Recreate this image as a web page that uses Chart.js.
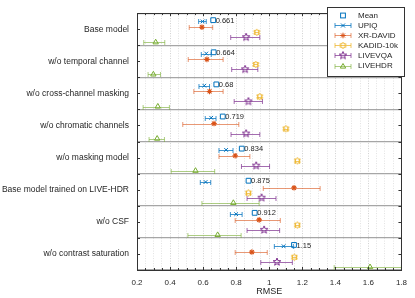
<!doctype html>
<html>
<head>
    <title>RMSE ablation</title>
    <script src="https://cdn.jsdelivr.net/npm/chart.js@4.4.0/dist/chart.umd.min.js"></script>
    <style>
        body { margin: 0; background: #fff; }
        #canvas { display: block; }
    </style>
</head>
<body>
    <canvas id="canvas" width="415" height="298"></canvas>
    <script>
        // categories (top to bottom)
        var groups = ['Base model', 'w/o temporal channel', 'w/o cross-channel masking', 'w/o chromatic channels',
            'w/o masking model', 'Base model trained on LIVE-HDR', 'w/o CSF', 'w/o contrast saturation'];
        var seriesNames = ['UPIQ', 'XR-DAVID', 'KADID-10k', 'LIVEVQA', 'LIVEHDR'];
        var xTickLabels = [0.2, 0.4, 0.6, 0.8, 1, 1.2, 1.4, 1.6, 1.8];

        // mean RMSE per model variant
        var meanVal = [0.661, 0.664, 0.68, 0.719, 0.834, 0.875, 0.912, 1.15];

        var upiqVal = [0.597, 0.619, 0.607, 0.649, 0.739, 0.615, 0.800, 1.087];
        var upiqLo  = [0.573, 0.589, 0.575, 0.613, 0.696, 0.583, 0.765, 1.031];
        var upiqHi  = [0.619, 0.649, 0.639, 0.678, 0.781, 0.646, 0.836, 1.146];

        var xrVal = [0.593, 0.623, 0.639, 0.666, 0.794, 1.150, 0.939, 0.895];
        var xrLo  = [0.516, 0.510, 0.544, 0.477, 0.696, 0.964, 0.794, 0.794];
        var xrHi  = [0.658, 0.721, 0.721, 0.816, 0.883, 1.308, 1.067, 0.988];

        var kadidVal = [0.925, 0.919, 0.943, 1.101, 1.170, 0.874, 1.170, 1.152];
        var kadidLo  = [0.913, 0.907, 0.931, 1.089, 1.158, 0.862, 1.158, 1.140];
        var kadidHi  = [0.937, 0.931, 0.955, 1.113, 1.182, 0.886, 1.182, 1.164];

        var vqaVal = [0.860, 0.854, 0.874, 0.860, 0.921, 0.954, 0.969, 1.047];
        var vqaLo  = [0.767, 0.773, 0.788, 0.769, 0.832, 0.866, 0.866, 0.949];
        var vqaHi  = [0.943, 0.931, 0.959, 0.943, 1.002, 1.041, 1.063, 1.140];

        var hdrVal = [0.313, 0.299, 0.326, 0.322, 0.554, 0.783, 0.688, 1.610];
        var hdrLo  = [0.241, 0.267, 0.237, 0.273, 0.407, 0.593, 0.508, 1.393];
        var hdrHi  = [0.368, 0.342, 0.396, 0.366, 0.670, 0.939, 0.830, 1.800];

        var colors = ['#0072BD', '#D95319', '#EDB120', '#7E2F8E', '#77AC30'];
        var barColors = ['rgba(0,114,189,0.75)', 'rgba(217,83,25,0.6)', 'rgba(237,177,32,0.7)', 'rgba(126,47,142,0.7)', 'rgba(119,172,48,0.6)'];
        var rowOffset = [-0.24, -0.06, 0.1, 0.25, 0.41];
        var meanOffset = -0.28;

        function starImg(color, n, R, r, size) {
            var c = document.createElement('canvas');
            c.width = size; c.height = size;
            var g = c.getContext('2d');
            g.strokeStyle = color;
            g.lineWidth = 1;
            g.beginPath();
            for (var k = 0; k < 2 * n; k++) {
                var a = -Math.PI / 2 + k * Math.PI / n;
                var rad = k % 2 ? r : R;
                var px = size / 2 + rad * Math.cos(a), py = size / 2 + rad * Math.sin(a);
                if (k == 0) g.moveTo(px, py); else g.lineTo(px, py);
            }
            g.closePath();
            g.stroke();
            return c;
        }
        var hexagram = starImg(colors[2], 6, 3.3, 2.0, 9);
        var pentagram = starImg(colors[3], 5, 4.0, 1.7, 10);

        var vals = [upiqVal, xrVal, kadidVal, vqaVal, hdrVal];
        var los = [upiqLo, xrLo, kadidLo, vqaLo, hdrLo];
        var his = [upiqHi, xrHi, kadidHi, vqaHi, hdrHi];
        var styles = [
            { pointStyle: 'crossRot', radius: 2.6, borderWidth: 1 },
            { pointStyle: 'star', radius: 2.8, borderWidth: 1.1 },
            { pointStyle: hexagram, radius: 4, borderWidth: 1 },
            { pointStyle: pentagram, radius: 4, borderWidth: 1 },
            { pointStyle: 'triangle', radius: 3.1, borderWidth: 1 }
        ];

        var datasets = [{
            label: 'Mean',
            data: meanVal.map(function (v, j) { return { x: v, y: j + 1 + meanOffset }; }),
            pointStyle: 'rect',
            pointRadius: 3.4,
            borderColor: colors[0],
            backgroundColor: 'rgba(0,0,0,0)',
            borderWidth: 1
        }];
        for (var i = 0; i < 5; i++) {
            datasets.push({
                label: seriesNames[i],
                data: vals[i].map(function (v, j) { return { x: v, y: j + 1 + rowOffset[i] }; }),
                pointStyle: styles[i].pointStyle,
                pointRadius: styles[i].radius,
                borderColor: colors[i],
                backgroundColor: 'rgba(0,0,0,0)',
                borderWidth: styles[i].borderWidth
            });
        }

        var errorBars = {
            id: 'errorBars',
            beforeDatasetsDraw: function (chart) {
                var c = chart.ctx, xs = chart.scales.x, ys = chart.scales.y;
                c.save();
                c.lineWidth = 1;
                for (var i = 0; i < 5; i++) {
                    c.strokeStyle = barColors[i];
                    for (var j = 0; j < groups.length; j++) {
                        var y = Math.round(ys.getPixelForValue(j + 1 + rowOffset[i])) + 0.5;
                        var x0 = xs.getPixelForValue(los[i][j]), x1 = xs.getPixelForValue(his[i][j]);
                        c.beginPath();
                        c.moveTo(x0, y); c.lineTo(x1, y);
                        c.moveTo(x0, y - 2.5); c.lineTo(x0, y + 2.5);
                        c.moveTo(x1, y - 2.5); c.lineTo(x1, y + 2.5);
                        c.stroke();
                    }
                }
                c.restore();
            }
        };

        var meanLabels = {
            id: 'meanLabels',
            afterDatasetsDraw: function (chart) {
                var c = chart.ctx, xs = chart.scales.x, ys = chart.scales.y;
                c.save();
                c.font = '7.5px "Liberation Sans", Arial, sans-serif';
                c.fillStyle = '#262626';
                c.textBaseline = 'middle';
                c.textAlign = 'left';
                for (var j = 0; j < meanVal.length; j++) {
                    c.fillText(String(meanVal[j]), xs.getPixelForValue(meanVal[j]) + 2.5, ys.getPixelForValue(j + 1 + meanOffset) + 0.5);
                }
                c.restore();
            }
        };

        var frame = {
            id: 'frame',
            afterDatasetsDraw: function (chart) {
                var c = chart.ctx, a = chart.chartArea, xs = chart.scales.x, ys = chart.scales.y;
                c.save();
                c.strokeStyle = '#333';
                c.lineWidth = 1;
                c.beginPath();
                for (var v = 0.2; v < 1.8001; v += 0.05) {
                    var x = Math.round(xs.getPixelForValue(v)) + 0.5;
                    var major = Math.abs(v / 0.2 - Math.round(v / 0.2)) < 1e-6;
                    var len = major ? 3 : 2;
                    c.moveTo(x, a.bottom); c.lineTo(x, a.bottom - len);
                    c.moveTo(x, a.top); c.lineTo(x, a.top + len);
                }
                for (var t = 0.5; t <= 8.5; t += 0.5) {
                    var y = Math.round(ys.getPixelForValue(t)) + 0.5;
                    c.moveTo(a.left, y); c.lineTo(a.left + 3, y);
                    c.moveTo(a.right, y); c.lineTo(a.right - 3, y);
                }
                c.stroke();
                c.strokeRect(Math.round(a.left) + 0.5, Math.round(a.top) + 0.5, Math.round(a.right - a.left), Math.round(a.bottom - a.top));
                c.restore();
            }
        };

        function drawMarker(c, k, x, y) {
            c.save();
            c.lineWidth = 1;
            if (k == 0) {
                c.strokeStyle = colors[0];
                c.strokeRect(x - 2.4, y - 2.4, 4.8, 4.8);
            } else {
                var i = k - 1;
                c.strokeStyle = barColors[i];
                c.beginPath();
                c.moveTo(x - 8, y); c.lineTo(x + 8, y);
                c.moveTo(x - 8, y - 2.5); c.lineTo(x - 8, y + 2.5);
                c.moveTo(x + 8, y - 2.5); c.lineTo(x + 8, y + 2.5);
                c.stroke();
                c.strokeStyle = colors[i];
                c.beginPath();
                if (i == 0) {
                    c.moveTo(x - 2, y - 2); c.lineTo(x + 2, y + 2);
                    c.moveTo(x - 2, y + 2); c.lineTo(x + 2, y - 2);
                    c.stroke();
                } else if (i == 1) {
                    c.moveTo(x - 2.8, y); c.lineTo(x + 2.8, y);
                    c.moveTo(x, y - 2.8); c.lineTo(x, y + 2.8);
                    c.moveTo(x - 2, y - 2); c.lineTo(x + 2, y + 2);
                    c.moveTo(x - 2, y + 2); c.lineTo(x + 2, y - 2);
                    c.stroke();
                } else if (i == 2) {
                    c.drawImage(hexagram, x - 4.5, y - 4.5);
                } else if (i == 3) {
                    c.drawImage(pentagram, x - 5, y - 5);
                } else {
                    c.moveTo(x, y - 3); c.lineTo(x + 2.7, y + 1.6); c.lineTo(x - 2.7, y + 1.6);
                    c.closePath();
                    c.stroke();
                }
            }
            c.restore();
        }

        var legendBox = {
            id: 'legendBox',
            afterDraw: function (chart) {
                var c = chart.ctx;
                var bx = 327, by = 7, bw = 77, bh = 69;
                c.save();
                c.fillStyle = '#fff';
                c.fillRect(bx, by, bw, bh);
                c.strokeStyle = '#333';
                c.lineWidth = 1;
                c.strokeRect(bx + 0.5, by + 0.5, bw, bh);
                var names = ['Mean'].concat(seriesNames);
                c.font = '8px "Liberation Sans", Arial, sans-serif';
                c.fillStyle = '#262626';
                c.textBaseline = 'middle';
                for (var k = 0; k < names.length; k++) {
                    var y = by + 8 + k * 10.1;
                    drawMarker(c, k, 343, Math.round(y) + 0.5);
                    c.fillText(names[k], 358, y + 0.5);
                }
                c.restore();
            }
        };

        var xTicks = [];
        for (var s = 0; s <= 32; s++) xTicks.push({ value: 0.2 + s * 0.05 });
        var yTicks = [];
        for (var s2 = 1; s2 <= 17; s2++) yTicks.push({ value: s2 * 0.5 });

        function isMajor(v) {
            return xTickLabels.some(function (t) { return Math.abs(t - v) < 1e-6; });
        }

        var ctx = document.getElementById('canvas').getContext('2d');
        window.myChart = new Chart(ctx, {
            type: 'scatter',
            data: { datasets: datasets },
            options: {
                responsive: false,
                animation: false,
                layout: { padding: { left: 1, right: 8, top: 1, bottom: 0 } },
                plugins: {
                    legend: { display: false },
                    tooltip: { enabled: false }
                },
                scales: {
                    x: {
                        type: 'linear',
                        min: 0.2,
                        max: 1.8,
                        afterBuildTicks: function (scale) { scale.ticks = xTicks.slice(); },
                        afterFit: function (scale) { scale.height = 28; },
                        ticks: {
                            autoSkip: false,
                            maxRotation: 0,
                            padding: 8,
                            color: '#262626',
                            font: { family: '"Liberation Sans", Arial, sans-serif', size: 8 },
                            callback: function (v) { return isMajor(v) ? String(+v.toFixed(1)) : ''; }
                        },
                        grid: {
                            drawTicks: false,
                            lineWidth: 1,
                            color: function (c) { return isMajor(c.tick.value) ? '#d0d0d0' : '#e2e2e2'; }
                        },
                        border: { display: false, dash: [1, 1.5] },
                        title: {
                            display: true,
                            text: 'RMSE',
                            color: '#262626',
                            padding: { top: 0, bottom: 1 },
                            font: { family: '"Liberation Sans", Arial, sans-serif', size: 9 }
                        }
                    },
                    y: {
                        type: 'linear',
                        reverse: true,
                        min: 0.5,
                        max: 8.5,
                        afterBuildTicks: function (scale) { scale.ticks = yTicks.slice(); },
                        afterFit: function (scale) { scale.width = 136; },
                        ticks: {
                            autoSkip: false,
                            padding: 8,
                            color: '#262626',
                            font: { family: '"Liberation Sans", Arial, sans-serif', size: 8.5 },
                            callback: function (v) { return Number.isInteger(v) ? groups[v - 1] : ''; }
                        },
                        grid: {
                            drawTicks: false,
                            lineWidth: 1.2,
                            color: function (c) { return Number.isInteger(c.tick.value) ? 'rgba(0,0,0,0)' : '#a6a6a6'; }
                        },
                        border: { display: false }
                    }
                }
            },
            plugins: [errorBars, meanLabels, frame, legendBox]
        });
    </script>
</body>
</html>
